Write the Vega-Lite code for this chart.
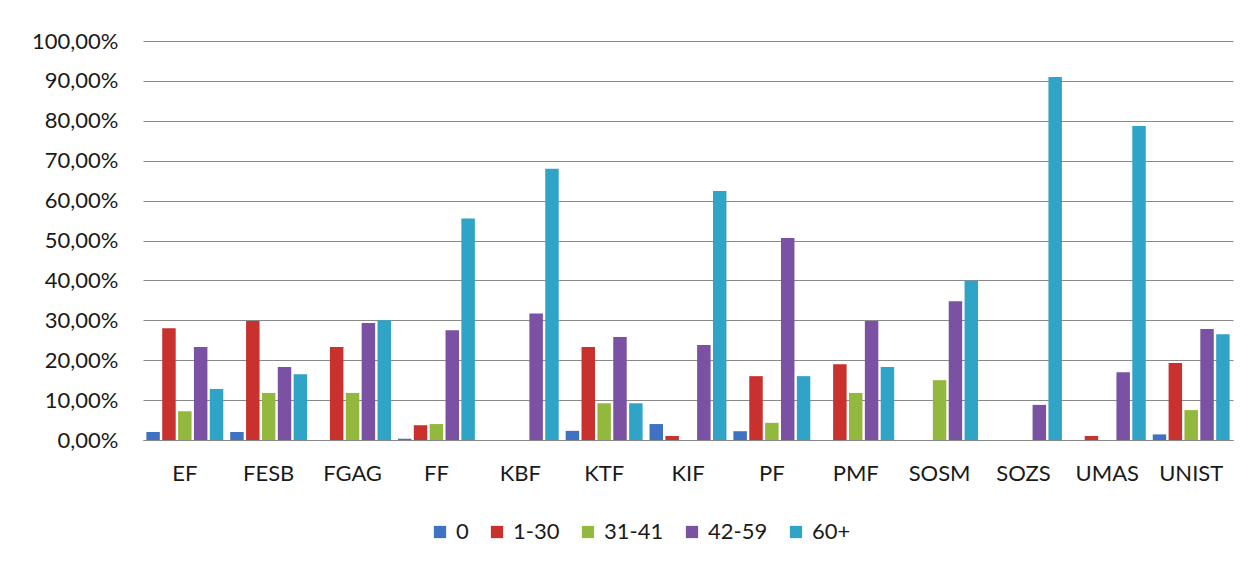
{
  "$schema": "https://vega.github.io/schema/vega-lite/v6.json",
  "autosize": {"type": "none"},
  "padding": {"left": 143, "top": 41, "right": 19, "bottom": 124},
  "width": 1090,
  "height": 399,
  "background": "#ffffff",
  "data": {"values": [
    {"u": "EF", "g": "0", "v": 2.0}, {"u": "EF", "g": "1-30", "v": 28.0}, {"u": "EF", "g": "31-41", "v": 7.2}, {"u": "EF", "g": "42-59", "v": 23.3}, {"u": "EF", "g": "60+", "v": 12.8},
    {"u": "FESB", "g": "0", "v": 2.0}, {"u": "FESB", "g": "1-30", "v": 29.8}, {"u": "FESB", "g": "31-41", "v": 11.8}, {"u": "FESB", "g": "42-59", "v": 18.3}, {"u": "FESB", "g": "60+", "v": 16.5},
    {"u": "FGAG", "g": "0", "v": 0}, {"u": "FGAG", "g": "1-30", "v": 23.3}, {"u": "FGAG", "g": "31-41", "v": 11.8}, {"u": "FGAG", "g": "42-59", "v": 29.3}, {"u": "FGAG", "g": "60+", "v": 30.0},
    {"u": "FF", "g": "0", "v": 0.3}, {"u": "FF", "g": "1-30", "v": 3.7}, {"u": "FF", "g": "31-41", "v": 4.0}, {"u": "FF", "g": "42-59", "v": 27.5}, {"u": "FF", "g": "60+", "v": 55.5},
    {"u": "KBF", "g": "0", "v": 0}, {"u": "KBF", "g": "1-30", "v": 0}, {"u": "KBF", "g": "31-41", "v": 0}, {"u": "KBF", "g": "42-59", "v": 31.7}, {"u": "KBF", "g": "60+", "v": 68.0},
    {"u": "KTF", "g": "0", "v": 2.3}, {"u": "KTF", "g": "1-30", "v": 23.3}, {"u": "KTF", "g": "31-41", "v": 9.2}, {"u": "KTF", "g": "42-59", "v": 25.8}, {"u": "KTF", "g": "60+", "v": 9.2},
    {"u": "KIF", "g": "0", "v": 4.0}, {"u": "KIF", "g": "1-30", "v": 1.0}, {"u": "KIF", "g": "31-41", "v": 0}, {"u": "KIF", "g": "42-59", "v": 23.8}, {"u": "KIF", "g": "60+", "v": 62.4},
    {"u": "PF", "g": "0", "v": 2.2}, {"u": "PF", "g": "1-30", "v": 16.0}, {"u": "PF", "g": "31-41", "v": 4.3}, {"u": "PF", "g": "42-59", "v": 50.6}, {"u": "PF", "g": "60+", "v": 16.0},
    {"u": "PMF", "g": "0", "v": 0}, {"u": "PMF", "g": "1-30", "v": 19.0}, {"u": "PMF", "g": "31-41", "v": 11.8}, {"u": "PMF", "g": "42-59", "v": 29.8}, {"u": "PMF", "g": "60+", "v": 18.3},
    {"u": "SOSM", "g": "0", "v": 0}, {"u": "SOSM", "g": "1-30", "v": 0}, {"u": "SOSM", "g": "31-41", "v": 15.0}, {"u": "SOSM", "g": "42-59", "v": 34.8}, {"u": "SOSM", "g": "60+", "v": 39.9},
    {"u": "SOZS", "g": "0", "v": 0}, {"u": "SOZS", "g": "1-30", "v": 0}, {"u": "SOZS", "g": "31-41", "v": 0}, {"u": "SOZS", "g": "42-59", "v": 8.8}, {"u": "SOZS", "g": "60+", "v": 91.0},
    {"u": "UMAS", "g": "0", "v": 0}, {"u": "UMAS", "g": "1-30", "v": 1.0}, {"u": "UMAS", "g": "31-41", "v": 0}, {"u": "UMAS", "g": "42-59", "v": 17.0}, {"u": "UMAS", "g": "60+", "v": 78.7},
    {"u": "UNIST", "g": "0", "v": 1.4}, {"u": "UNIST", "g": "1-30", "v": 19.3}, {"u": "UNIST", "g": "31-41", "v": 7.5}, {"u": "UNIST", "g": "42-59", "v": 27.8}, {"u": "UNIST", "g": "60+", "v": 26.5}
  ]},
  "mark": {"type": "bar"},
  "encoding": {
    "x": {
      "field": "u", "type": "nominal", "sort": null, "title": null,
      "scale": {"paddingInner": 0.083, "paddingOuter": 0.04},
      "axis": {"labelAngle": 0, "ticks": false, "domain": true, "domainColor": "#8a8a8a", "domainWidth": 1.2, "labelPadding": 23, "labelFont": "Lato", "labelFontSize": 22, "labelColor": "#1a1a1a", "grid": false}
    },
    "xOffset": {"field": "g", "type": "nominal", "sort": ["0", "1-30", "31-41", "42-59", "60+"], "scale": {"paddingInner": 0.15, "paddingOuter": 0}},
    "y": {
      "field": "v", "type": "quantitative", "title": null,
      "scale": {"domain": [0, 100], "nice": false},
      "axis": {"values": [0, 10, 20, 30, 40, 50, 60, 70, 80, 90, 100], "labelExpr": "replace(format(datum.value, '.2f'), '.', ',') + '%'", "domain": false, "ticks": false, "labelPadding": 25, "labelFont": "Lato", "labelFontSize": 22, "labelColor": "#1a1a1a", "grid": true, "gridColor": "#8a8a8a", "gridWidth": 1.2}
    },
    "color": {
      "field": "g", "type": "nominal", "sort": ["0", "1-30", "31-41", "42-59", "60+"], "title": null,
      "scale": {"domain": ["0", "1-30", "31-41", "42-59", "60+"], "range": ["#3F72C2", "#C8312D", "#93B83E", "#7B52A3", "#2FA4C6"]},
      "legend": {"orient": "none", "direction": "horizontal", "legendX": 286, "legendY": 480, "symbolType": "square", "symbolSize": 150, "symbolStrokeWidth": 0, "labelFont": "Lato", "labelFontSize": 22, "labelColor": "#1a1a1a", "labelOffset": 5, "columnPadding": 17}
    }
  },
  "config": {"view": {"stroke": null}}
}
